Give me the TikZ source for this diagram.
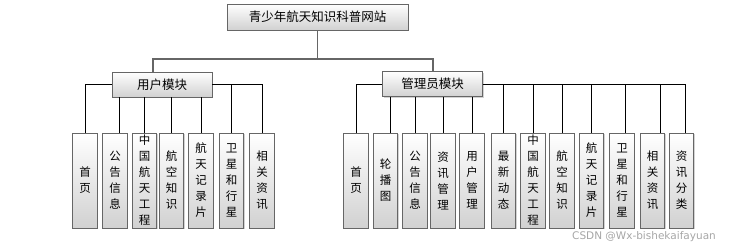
\documentclass[tikz,border=0pt]{standalone}
\usepackage{fontspec}
\setmainfont{Noto Sans CJK SC}
\newfontfamily\wmfont{DejaVu Sans}
\usetikzlibrary{shadows}
\tikzset{
  modbox/.style={draw=black!60,line width=0.8pt,top color=white,bottom color=black!18,
    drop shadow={shadow xshift=1pt,shadow yshift=-1pt,opacity=0.35},inner sep=1pt},
  topbox/.style={modbox,minimum width=181pt,minimum height=26pt,font=\fontsize{12.5}{14}\selectfont},
  midbox/.style={modbox,minimum width=100pt,minimum height=25pt,font=\fontsize{12.5}{14}\selectfont},
  leafbox/.style={modbox,minimum width=24.5pt,minimum height=95pt,align=center,
    font=\fontsize{11.5}{16}\selectfont},
  trunk/.style={draw=black!60,line width=1.2pt},
  twig/.style={draw=black,line width=0.7pt}
}
\begin{document}
\begin{tikzpicture}[x=1pt,y=-1pt]
\useasboundingbox (0,0) rectangle (732,250);
\node[topbox] (site) at (317.5,17) {青少年航天知识科普网站};
\node[midbox] (userm) at (162,84.5) {用户模块};
\node[midbox] (adminm) at (432.5,84) {管理员模块};
\coordinate (hubL) at (153,59);
\coordinate (hubR) at (433,59);
% user module leaves
\node[leafbox] (u1) at (85,180.5) {首\\页};
\node[leafbox] (u2) at (115,180.5) {公\\告\\信\\息};
\node[leafbox] (u3) at (144.5,180.5) {中\\国\\航\\天\\工\\程};
\node[leafbox] (u4) at (171.5,180.5) {航\\空\\知\\识};
\node[leafbox] (u5) at (201,180.5) {航\\天\\记\\录\\片};
\node[leafbox] (u6) at (231.5,180.5) {卫\\星\\和\\行\\星};
\node[leafbox] (u7) at (262,180.5) {相\\关\\资\\讯};
% admin module leaves
\node[leafbox] (a1) at (356,180.5) {首\\页};
\node[leafbox] (a2) at (385.5,180.5) {轮\\播\\图};
\node[leafbox] (a3) at (415,180.5) {公\\告\\信\\息};
\node[leafbox] (a4) at (443,180.5) {资\\讯\\管\\理};
\node[leafbox] (a5) at (472,180.5) {用\\户\\管\\理};
\node[leafbox] (a6) at (503.5,180.5) {最\\新\\动\\态};
\node[leafbox] (a7) at (533,180.5) {中\\国\\航\\天\\工\\程};
\node[leafbox] (a8) at (562,180.5) {航\\空\\知\\识};
\node[leafbox] (a9) at (591.5,180.5) {航\\天\\记\\录\\片};
\node[leafbox] (a10) at (622,180.5) {卫\\星\\和\\行\\星};
\node[leafbox] (a11) at (652.5,180.5) {相\\关\\资\\讯};
\node[leafbox] (a12) at (681.5,180.5) {资\\讯\\分\\类};
\node[text=black!35,font=\wmfont\fontsize{10.5}{12}\selectfont] (mark) at (644,237) {CSDN @Wx-bishekaifayuan};
% trunk
\draw[trunk] (site.south) -- (site.south |- hubL);
\draw[trunk] (hubL |- userm.north) -- (hubL) -- (hubR) -- (hubR |- adminm.north);
% user branches
\draw[twig] (userm.west) -| (u1.north);
\draw[twig] ([xshift=4pt]u2.north |- userm.south) -- ([xshift=4pt]u2.north);
\draw[twig] (u3.north |- userm.south) -- (u3.north);
\draw[twig] (u4.north |- userm.south) -- (u4.north);
\draw[twig] (u5.north |- userm.south) -- (u5.north);
\draw[twig] (u6.north |- userm.east) -- (u6.north);
\draw[twig] (userm.east) -| (u7.north);
% admin branches
\draw[twig] (adminm.west) -| (a1.north);
\draw[twig] ([xshift=5pt]a2.north |- adminm.south) -- ([xshift=5pt]a2.north);
\draw[twig] (a3.north |- adminm.south) -- (a3.north);
\draw[twig] (a4.north |- adminm.south) -- (a4.north);
\draw[twig] (a5.north |- adminm.south) -- (a5.north);
\draw[twig] (a6.north |- adminm.east) -- (a6.north);
\draw[twig] (a7.north |- adminm.east) -- (a7.north);
\draw[twig] (a8.north |- adminm.east) -- (a8.north);
\draw[twig] (a9.north |- adminm.east) -- (a9.north);
\draw[twig] ([xshift=3pt]a10.north |- adminm.east) -- ([xshift=3pt]a10.north);
\draw[twig] ([xshift=7.5pt]a11.north |- adminm.east) -- ([xshift=7.5pt]a11.north);
\draw[twig] (adminm.east) -| ([xshift=3.5pt]a12.north);
\end{tikzpicture}
\end{document}
